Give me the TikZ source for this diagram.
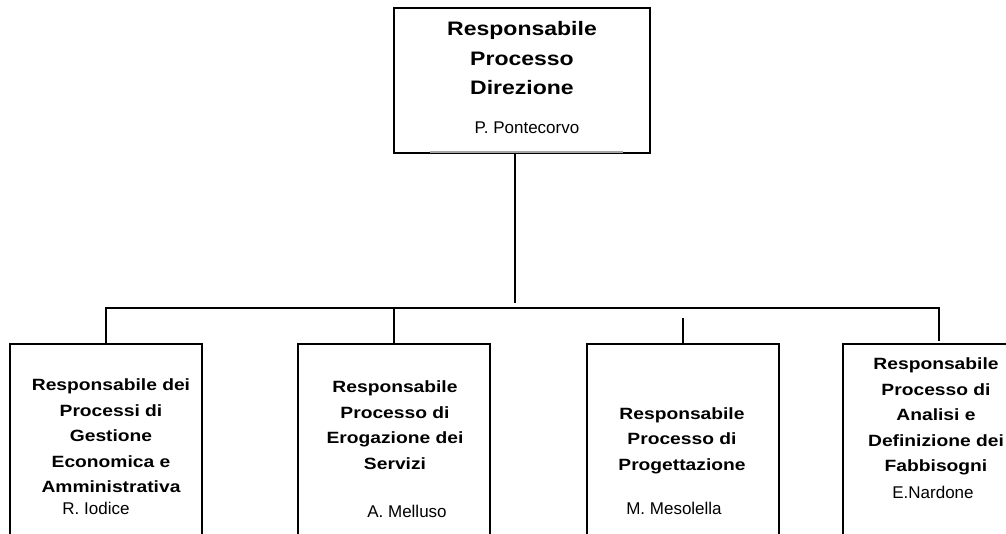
\documentclass[tikz,border=0pt]{standalone}
\usepackage{fontspec}
\setmainfont{Liberation Sans}
\newfontfamily\titlefont[FakeStretch=1.18]{Liberation Sans}
\usepackage{tikz}
\usetikzlibrary{calc}

\tikzset{
  box/.style={draw, line width=1.6pt, rectangle, inner sep=0pt, anchor=north},
  wire/.style={line width=1.6pt},
  bigtitle/.style={align=center, inner sep=0pt, font=\titlefont\bfseries\fontsize{19.5}{29.5}\selectfont},
  title/.style={align=center, inner sep=0pt, font=\titlefont\bfseries\fontsize{16.3}{25.5}\selectfont},
  person/.style={inner sep=0pt, font=\fontsize{17}{20}\selectfont}
}

\begin{document}
\begin{tikzpicture}[x=1pt, y=-1pt]
  \useasboundingbox (0,0) rectangle (1006,533);
  \clip (0,0) rectangle (1006,533);

  % top box
  \node[box, minimum width=256pt, minimum height=145pt] (top) at (522,7) {};
  \node[bigtitle] (toptitle) at (522,58.5) {Responsabile\\Processo\\Direzione};
  \node[person] (topname) at (527,128) {P. Pontecorvo};
  % faded middle part of the lower edge
  \draw[line width=1.7pt, white] (430,152) -- (623,152);
  \draw[line width=1.2pt, gray!70] (430,152) -- (623,152);

  % lower boxes (cut off at the bottom)
  \node[box, minimum width=192pt, minimum height=250pt] (b1) at (106,343) {};
  \node[box, minimum width=192pt, minimum height=250pt] (b2) at (394,343) {};
  \node[box, minimum width=192pt, minimum height=250pt] (b3) at (683,343) {};
  \node[box, minimum width=192pt, minimum height=250pt] (b4) at (939,343) {};

  \node[title] (t1) at (111,436) {Responsabile dei\\Processi di\\Gestione\\Economica e\\Amministrativa};
  \node[person] (n1) at (96,508) {R. Iodice};
  \node[title] (t2) at (395,425) {Responsabile\\Processo di\\Erogazione dei\\Servizi};
  \node[person] (n2) at (407,511) {A. Melluso};
  \node[title] (t3) at (682,440.5) {Responsabile\\Processo di\\Progettazione};
  \node[person] (n3) at (674,508) {M. Mesolella};
  \node[title] (t4) at (936,416.5) {Responsabile\\Processo di\\Analisi e\\Definizione dei\\Fabbisogni};
  \node[person] (n4) at (933,492) {E.Nardone};

  % connectors
  \coordinate (hub) at (515,308);
  \draw[wire] (top.south -| hub) -- ($(hub)+(0,-5)$);
  \draw[wire] (b1.north) -- (b1.north |- hub) -- (b4.north |- hub) -- ($(b4.north)+(0,-2)$);
  \draw[wire] (b2.north) -- (b2.north |- hub);
  \draw[wire] (b3.north) -- ($(b3.north |- hub)+(0,10)$);
\end{tikzpicture}
\end{document}
